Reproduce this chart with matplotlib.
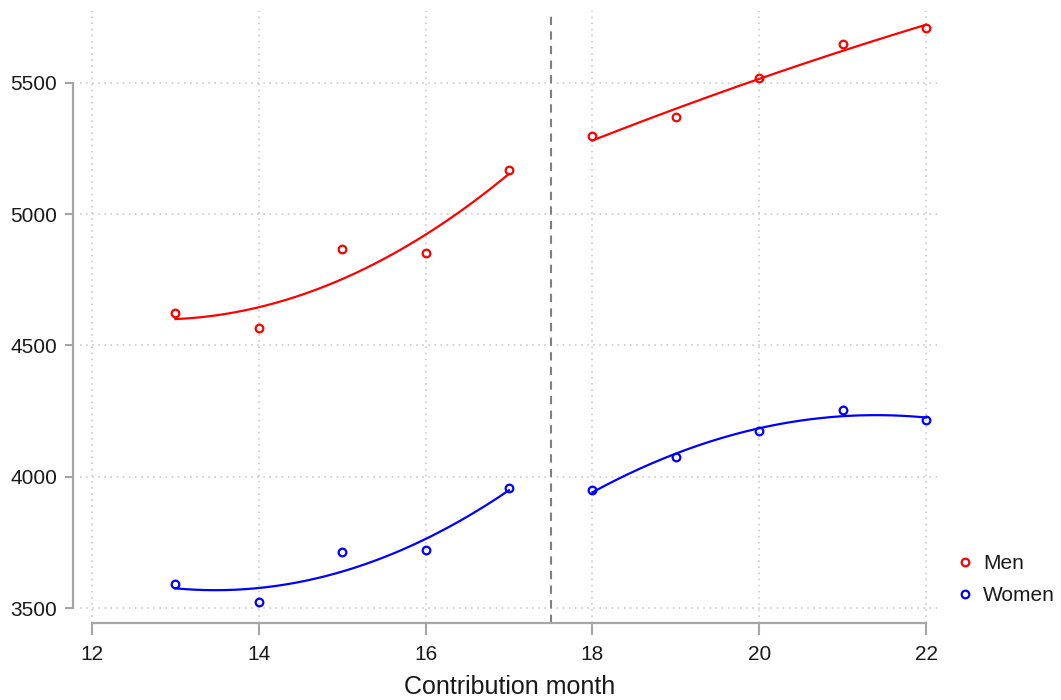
import numpy as np
import matplotlib
matplotlib.use("Agg")
import matplotlib.pyplot as plt

plt.rcParams['font.family'] = ['Liberation Sans', 'DejaVu Sans']

months = [13, 14, 15, 16, 17, 18, 19, 20, 21, 22]
men = [4622, 4565, 4866, 4852, 5170, 5296, 5370, 5520, 5648, 5708]
women = [3590, 3522, 3712, 3720, 3958, 3948, 4077, 4175, 4255, 4215]
cutoff = 17.5
x_ticks = [12, 14, 16, 18, 20, 22]
y_ticks = [3500, 4000, 4500, 5000, 5500]

fig = plt.figure(figsize=(10.61, 7.0), dpi=100)
ax = fig.add_axes([0.0754, 0.11, 0.8106, 0.8743])

gray = '#a6a6a6'
months_arr = np.array(months)


def qfit(xs, ys):
    coef = np.polyfit(xs, ys, 2)
    grid = np.linspace(xs.min(), xs.max(), 200)
    return grid, np.polyval(coef, grid)


for values, color, label in [(men, '#ff0000', 'Men'), (women, '#0000ff', 'Women')]:
    vals = np.array(values)
    ax.plot(months, values, linestyle='none', marker='o', markersize=5.5,
            markerfacecolor='none', markeredgecolor=color, markeredgewidth=1.6,
            label=label, zorder=3)
    for mask in (months_arr < cutoff, months_arr > cutoff):
        gx, gy = qfit(months_arr[mask], vals[mask])
        ax.plot(gx, gy, color=color, lw=1.6, zorder=2)

ax.axvline(cutoff, color='#808080', lw=1.5, linestyle=(0, (4, 3)), zorder=1)

ax.set_xlim(11.856, 22.168)
ax.set_ylim(3443, 5774)
ax.set_xticks(x_ticks)
ax.set_yticks(y_ticks)
ax.grid(True, color='#c4c4c4', linestyle=(0, (1, 3)), lw=1.1)
ax.set_axisbelow(True)

for side in ('top', 'right'):
    ax.spines[side].set_visible(False)
ax.spines['left'].set_position(('outward', 5))
ax.spines['left'].set_bounds(3500, 5500)
ax.spines['bottom'].set_bounds(12, 22)
for side in ('left', 'bottom'):
    ax.spines[side].set_color(gray)
    ax.spines[side].set_linewidth(1.6)

ax.tick_params(axis='both', colors=gray, width=1.5, direction='out',
               labelcolor='#1a1a1a', labelsize=15)
ax.tick_params(axis='y', length=5.8, pad=5.5)
ax.tick_params(axis='x', length=8.5, pad=7)

ax.set_xlabel('Contribution month', fontsize=18, color='#1a1a1a', labelpad=8)

leg = fig.legend(loc='center left', bbox_to_anchor=(0.894, 0.172), frameon=False,
                 fontsize=15, handlelength=0.8, handletextpad=0.45,
                 labelspacing=0.62, borderaxespad=0.0, borderpad=0.4)
for t in leg.get_texts():
    t.set_color('#1a1a1a')

fig.savefig('out.png', dpi=100)
